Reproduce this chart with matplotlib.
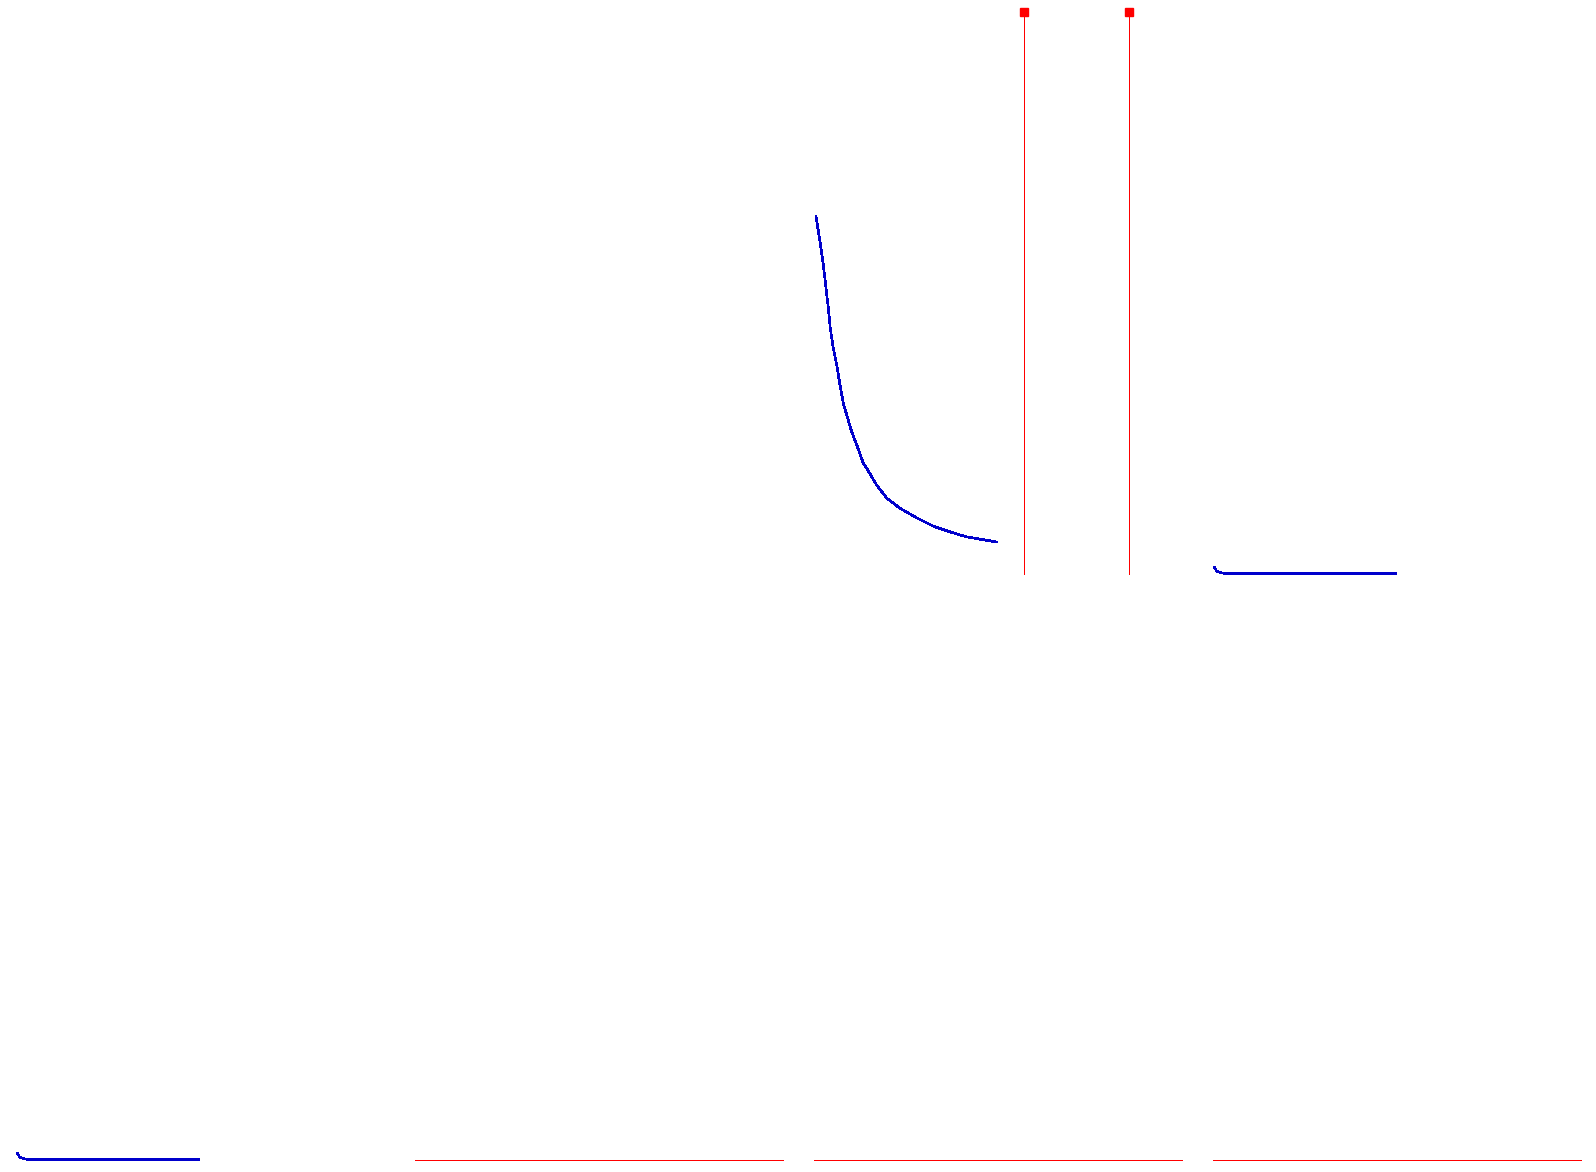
import matplotlib
matplotlib.use("Agg")
import matplotlib.pyplot as plt

plt.rcParams["lines.antialiased"] = False

# top row, third panel: decaying curve
decay_x = [0.54, 1.63, 2.53, 3.18, 3.89, 4.43, 5.24, 6.17, 7.07, 7.96, 8.89, 10.24,
           11.60, 13.40, 14.32, 17.04, 19.76, 23.37, 27.91, 32.42, 36.96, 41.49, 46.0, 49.65]
decay_y = [0.636, 0.592, 0.550, 0.514, 0.473, 0.437, 0.402, 0.372, 0.336, 0.304, 0.283, 0.253,
           0.230, 0.197, 0.188, 0.158, 0.135, 0.117, 0.100, 0.085, 0.075, 0.066, 0.061, 0.057]

# near-zero curves (top row panel 4, bottom row panel 1)
flat_x = [0.4, 1.0, 2.1, 3.9, 49.6]
flat_y = [0.012, 0.005, 0.0024, 0.0005, 0.0005]

# spikes in top row panel 3
stem_x = [57.1, 85.6]
stem_y = [1.0, 1.0]

# zero lines in bottom row panels 2-4
zero_level = 0.0

BLUE = "#0000cc"
RED = "#ff0000"

fig = plt.figure(figsize=(15.96, 11.72), dpi=100)
W, H = 1596.0, 1172.0
lefts = [16, 415, 814, 1213]
width = 368
height = 562
row_bottoms = [574, 1160]  # pixel y of the axes bottom, top row then bottom row

axes = []
for yb in row_bottoms:
    row = []
    for xl in lefts:
        ax = fig.add_axes([xl / W, (H - yb) / H, width / W, height / H])
        ax.set_xlim(0, 100)
        ax.set_ylim(0, 1)
        ax.axis("off")
        row.append(ax)
    axes.append(row)

# top row
ax = axes[0][2]
ax.plot(decay_x, decay_y, color=BLUE, lw=1.2, clip_on=False)
for x, y in zip(stem_x, stem_y):
    ax.vlines(x, 0, y, color=RED, lw=0.72, clip_on=False, antialiased=False)
ax.plot(stem_x, stem_y, "s", color=RED, ms=6, clip_on=False)

axes[0][3].plot(flat_x, flat_y, color=BLUE, lw=1.2, clip_on=False)

# bottom row
axes[1][0].plot(flat_x, flat_y, color=BLUE, lw=1.2, clip_on=False)
for ax in axes[1][1:]:
    ax.axhline(zero_level, color=RED, lw=0.72, clip_on=False)

fig.savefig("out.png", dpi=100)
